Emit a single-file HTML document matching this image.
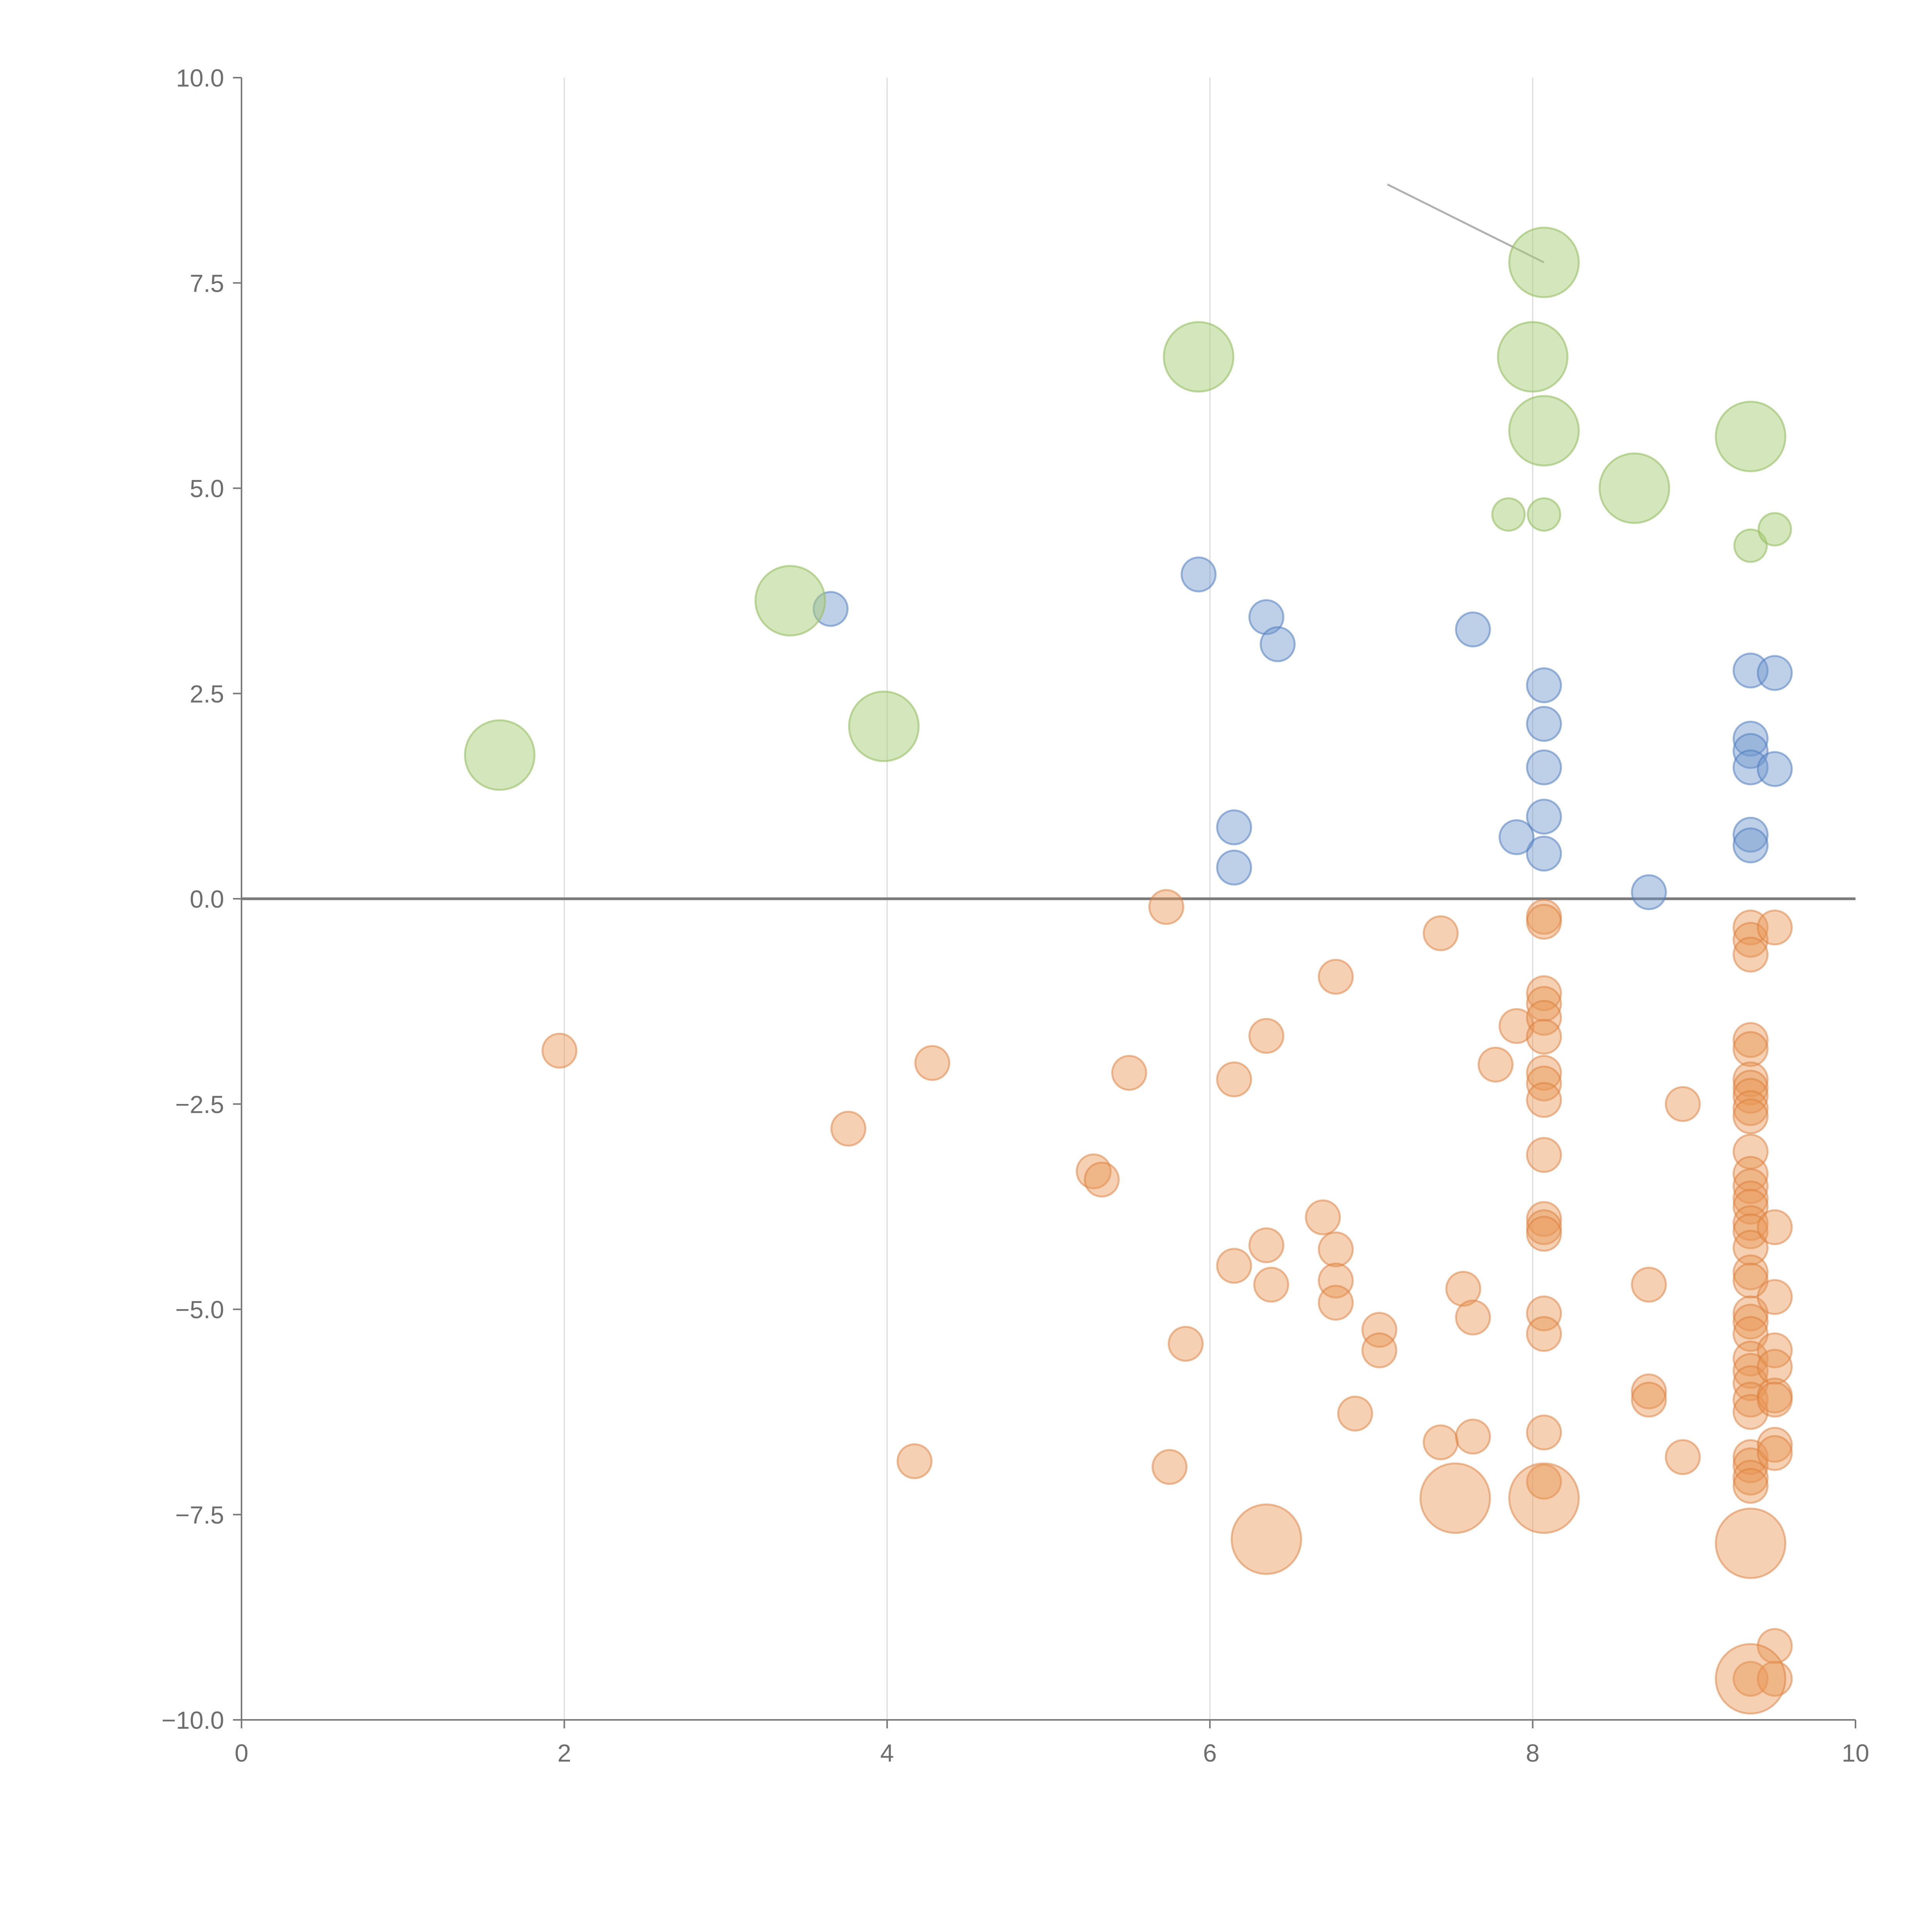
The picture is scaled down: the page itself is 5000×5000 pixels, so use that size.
<!DOCTYPE html>
<html><head><meta charset="utf-8">
<style>
html,body{margin:0;padding:0;background:#fff;}
svg{display:block;}
text{font-family:"Liberation Sans",sans-serif;fill:#6e6e6e;}
</style></head>
<body>
<svg id="chart" width="5000" height="5000" viewBox="0 0 5000 5000" xmlns="http://www.w3.org/2000/svg">
<g id="grid"></g>
<g id="axes"></g>
<g id="marks"></g>
</svg>
<script>
const xTicks = [0, 2, 4, 6, 8, 10];
const yTicks = [10, 7.5, 5, 2.5, 0, -2.5, -5, -7.5, -10];
const yTickLabels = ["10.0", "7.5", "5.0", "2.5", "0.0", "\u22122.5", "\u22125.0", "\u22127.5", "\u221210.0"];

const greenX = [1.6, 3.4, 3.98, 5.93, 8.07, 8.0, 8.07, 8.63, 9.35, 7.85, 8.07, 9.35, 9.5];
const greenY = [1.75, 3.63, 2.1, 6.6, 7.75, 6.6, 5.7, 5.0, 5.63, 4.68, 4.68, 4.3, 4.5];
const greenBig = [1,1,1,1,1,1,1,1,1,0,0,0,0];

const blueX = [3.65,5.93,6.35,6.42,7.63,8.07,8.07,8.07,8.07,8.07,7.9,6.15,6.15,8.72,9.35,9.5,9.35,9.35,9.35,9.5,9.35,9.35];
const blueY = [3.53,3.95,3.43,3.1,3.28,2.6,2.13,1.6,1.0,0.55,0.75,0.87,0.38,0.08,2.78,2.75,1.95,1.8,1.6,1.58,0.78,0.65];

const orangeBigX = [6.35, 7.52, 8.07, 9.35, 9.35];
const orangeBigY = [-7.8, -7.3, -7.3, -7.85, -9.5];

const orangeX = [1.97,3.76,4.17,4.28,5.28,5.33,5.5,5.73,5.75,5.85,6.15,6.15,6.35,6.35,6.38,6.7,6.78,6.78,6.78,6.78,6.9,7.05,7.05,7.43,7.43,7.57,7.63,7.63,7.77,7.9,
 8.07,8.07,8.07,8.07,8.07,8.07,8.07,8.07,8.07,8.07,8.07,8.07,8.07,8.07,8.07,8.07,8.07,8.72,8.72,8.72,8.93,8.93,
 9.35,9.35,9.35,9.35,9.35,9.35,9.35,9.35,9.35,9.35,9.35,9.35,9.35,9.35,9.35,9.35,9.35,9.35,9.35,9.35,9.35,9.35,9.35,9.35,9.35,9.35,9.35,9.35,9.35,9.35,9.35,9.35,9.35,
 9.5,9.5,9.5,9.5,9.5,9.5,9.5,9.5,9.5,9.5,9.5];
const orangeY = [-1.85,-2.8,-6.85,-2.0,-3.32,-3.42,-2.12,-0.1,-6.92,-5.42,-2.2,-4.47,-1.67,-4.22,-4.7,-3.88,-0.95,-4.27,-4.65,-4.92,-6.27,-5.25,-5.5,-0.42,-6.62,-4.75,-5.1,-6.55,-2.02,-1.55,
 -0.22,-0.28,-1.15,-1.28,-1.45,-1.68,-2.12,-2.25,-2.45,-3.12,-3.9,-4.0,-4.08,-5.05,-5.3,-6.5,-7.1,-4.7,-6.0,-6.1,-2.5,-6.8,
 -0.35,-0.5,-0.68,-1.72,-1.83,-2.2,-2.3,-2.4,-2.55,-2.65,-3.08,-3.35,-3.5,-3.65,-3.75,-3.95,-4.05,-4.25,-4.55,-4.65,-5.05,-5.15,-5.3,-5.6,-5.75,-5.9,-6.1,-6.25,-6.8,-6.9,-7.05,-7.15,-9.5,
 -0.35,-4.0,-4.85,-5.5,-5.7,-6.05,-6.1,-6.65,-6.75,-9.1,-9.5];

const X0 = 625, X1 = 4802, Y0 = 4451, Y1 = 201;
function sx(v){ return X0 + (v - 0) / 10 * (X1 - X0); }
function sy(v){ return Y0 - (v + 10) / 20 * (Y0 - Y1); }
const NS = "http://www.w3.org/2000/svg";
function mk(tag, attrs, parent){
  const e = document.createElementNS(NS, tag);
  for (const k in attrs) e.setAttribute(k, attrs[k]);
  parent.appendChild(e);
  return e;
}
const grid = document.getElementById('grid');
const axes = document.getElementById('axes');
const marks = document.getElementById('marks');

xTicks.forEach(t => {
  if (t > 0 && t < 10) {
    const g = mk('line', {x1:sx(t), x2:sx(t), y1:Y1, y2:Y0, stroke:'#dcdcdc', 'stroke-width':3}, grid);
    
    
  }
  const tk = mk('line', {x1:sx(t), x2:sx(t), y1:Y0, y2:Y0+22, stroke:'#7a7a7a', 'stroke-width':4}, axes);
  
  
  const tx = mk('text', {x:sx(t), y:Y0+108, 'font-size':64, 'text-anchor':'middle'}, axes);
  tx.textContent = t;
  
  
});
yTicks.forEach((t, i) => {
  const tk = mk('line', {x1:X0-22, x2:X0, y1:sy(t), y2:sy(t), stroke:'#7a7a7a', 'stroke-width':4}, axes);
  
  
  const tx = mk('text', {x:X0-45, y:sy(t)+23, 'font-size':64, 'text-anchor':'end'}, axes);
  tx.textContent = yTickLabels[i];
  
  
});
const ya = mk('line', {x1:X0, x2:X0, y1:Y1, y2:Y0, stroke:'#7a7a7a', 'stroke-width':4}, axes);


const xa = mk('line', {x1:X0, x2:X1, y1:Y0, y2:Y0, stroke:'#7a7a7a', 'stroke-width':4}, axes);


const zl = mk('line', {x1:X0, x2:X1, y1:sy(0), y2:sy(0), stroke:'#7a7a7a', 'stroke-width':7}, axes);



const lead = mk('line', {x1:sx(7.1), y1:sy(8.7), x2:sx(8.07), y2:sy(7.75), stroke:'#b0b0b0', 'stroke-width':5}, marks);



function dot(x, y, r, fill, stroke, name){
  const c = mk('circle', {cx:sx(x), cy:sy(y), r:r, fill:fill, stroke:stroke, 'stroke-width':5}, marks);
  
  
}
const GF='rgba(170,205,120,0.5)', GS='rgba(150,190,100,0.6)';
const BF='rgba(110,150,205,0.45)', BS='rgba(80,125,190,0.55)';
const OF='rgba(232,150,85,0.45)', OS='rgba(220,125,60,0.5)';
orangeX.forEach((x,i)=>dot(x, orangeY[i], 44, OF, OS, 'orange-bubble'));
orangeBigX.forEach((x,i)=>dot(x, orangeBigY[i], 90, OF, OS, 'orange-bubble-large'));
blueX.forEach((x,i)=>dot(x, blueY[i], 44, BF, BS, 'blue-bubble'));
greenX.forEach((x,i)=>dot(x, greenY[i], greenBig[i] ? 90 : 42, GF, GS, 'green-bubble'));
</script>
</body></html>
